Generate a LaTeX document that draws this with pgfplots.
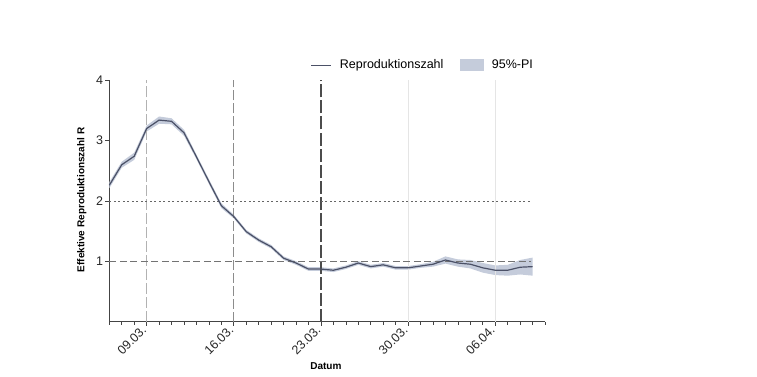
\documentclass[border=0pt]{standalone}
\usepackage{fontspec}
\setmainfont{Liberation Sans}
\usepackage{pgfplots}
\usepackage{pgfplotstable}
\pgfplotsset{compat=1.18}
\usepgfplotslibrary{fillbetween}
\definecolor{linecol}{HTML}{4B5167}
\definecolor{bandcol}{HTML}{C5CCDB}
\definecolor{axcol}{HTML}{444444}
\pgfplotstableread{
d R lo hi
0 2.26 2.21 2.31
1 2.60 2.55 2.65
2 2.74 2.68 2.80
3 3.20 3.15 3.25
4 3.34 3.28 3.40
5 3.32 3.27 3.37
6 3.13 3.08 3.18
7 2.73 2.69 2.77
8 2.32 2.28 2.36
9 1.92 1.88 1.96
10 1.74 1.71 1.77
11 1.49 1.46 1.52
12 1.35 1.32 1.38
13 1.24 1.21 1.27
14 1.05 1.02 1.08
15 0.97 0.94 1.00
16 0.87 0.84 0.90
17 0.87 0.84 0.90
18 0.85 0.82 0.88
19 0.90 0.87 0.93
20 0.97 0.94 1.00
21 0.91 0.88 0.94
22 0.94 0.91 0.97
23 0.89 0.86 0.92
24 0.89 0.86 0.92
25 0.92 0.89 0.95
26 0.95 0.91 0.99
27 1.02 0.96 1.08
28 0.97 0.91 1.03
29 0.95 0.88 1.02
30 0.89 0.81 0.97
31 0.85 0.77 0.93
32 0.85 0.76 0.94
33 0.90 0.78 1.02
34 0.91 0.76 1.06
}\Rdata
\begin{document}
\begin{tikzpicture}
\begin{axis}[
  at={(109.3pt,-321.5pt)}, anchor=south west,
  x=12.45pt, y=60.3pt,
  xmin=0, xmax=35, ymin=0, ymax=4,
  axis lines*=left,
  axis line style={-, color=axcol, line width=0.8pt},
  clip=false,
  xtick={3,10,17,24,31},
  xticklabels={09.03.,16.03.,23.03.,30.03.,06.04.},
  minor xtick={0,1,...,35},
  ytick={1,2,3,4},
  tick align=outside,
  major tick length=4pt, minor tick length=3pt,
  tick style={color=axcol, line width=0.7pt},
  /pgf/number format/assume math mode=true,
  tick label style={font=\fontsize{12.5}{14}\selectfont, color=black!85},
  xticklabel style={rotate=45, anchor=east, inner sep=3.5pt},
  yticklabel style={inner sep=2pt},
  every axis x label/.style={at={(axis description cs:0.497,-0.187)}, anchor=center},
  every axis y label/.style={at={(axis description cs:-0.063,0.504)}, rotate=90, anchor=center},
  label style={font=\fontsize{10}{12}\selectfont\bfseries},
  xlabel={Datum},
  ylabel={Effektive Reproduktionszahl R},
  legend columns=2,
  legend style={at={(axis description cs:0.462,1.063)}, anchor=west, draw=none, fill=none,
    inner xsep=0pt, inner ysep=0pt, font=\fontsize{12.5}{14}\selectfont,
    /tikz/every odd column/.append style={column sep=6pt},
    /tikz/every even column/.append style={column sep=15pt}},
]
\addlegendimage{legend image code/.code={\draw[linecol, line width=1.1pt] (0pt,0pt) -- (20pt,0pt);}}
\addlegendentry{Reproduktionszahl}
\addlegendimage{legend image code/.code={\fill[bandcol] (0pt,-5.5pt) rectangle (23pt,5.5pt);}}
\addlegendentry{95\%-PI}
% reference lines
\addplot[forget plot, color=black!10, line width=0.8pt] coordinates {(24,0) (24,4)};
\addplot[forget plot, color=black!10, line width=0.8pt] coordinates {(31,0) (31,4)};
\addplot[forget plot, color=black!30, line width=0.9pt, dash pattern=on 11pt off 3pt] coordinates {(3,0) (3,4)};
\addplot[forget plot, color=black!45, line width=1pt, dash pattern=on 10pt off 3pt] coordinates {(10,0) (10,4)};
\addplot[forget plot, color=black!70, line width=1.1pt, dash pattern=on 13pt off 3pt] coordinates {(17,0) (17,4)};
\addplot[forget plot, color=black!60, line width=0.8pt, dash pattern=on 2pt off 2.5pt] coordinates {(0,2) (33.9,2)};
% band and line
\addplot[forget plot, name path=up, draw=none] table[x=d, y=hi] {\Rdata};
\addplot[forget plot, name path=lo, draw=none] table[x=d, y=lo] {\Rdata};
\addplot[forget plot, fill=bandcol, draw=none] fill between[of=up and lo];
\addplot[forget plot, color=black!55, line width=1pt, dash pattern=on 7pt off 3.5pt] coordinates {(0,1) (33.9,1)};
\addplot[forget plot, color=linecol, line width=1.2pt] table[x=d, y=R] {\Rdata};
\end{axis}
\pgfresetboundingbox
\path[use as bounding box] (0,0) rectangle (757pt,-377pt);
\end{tikzpicture}
\end{document}
